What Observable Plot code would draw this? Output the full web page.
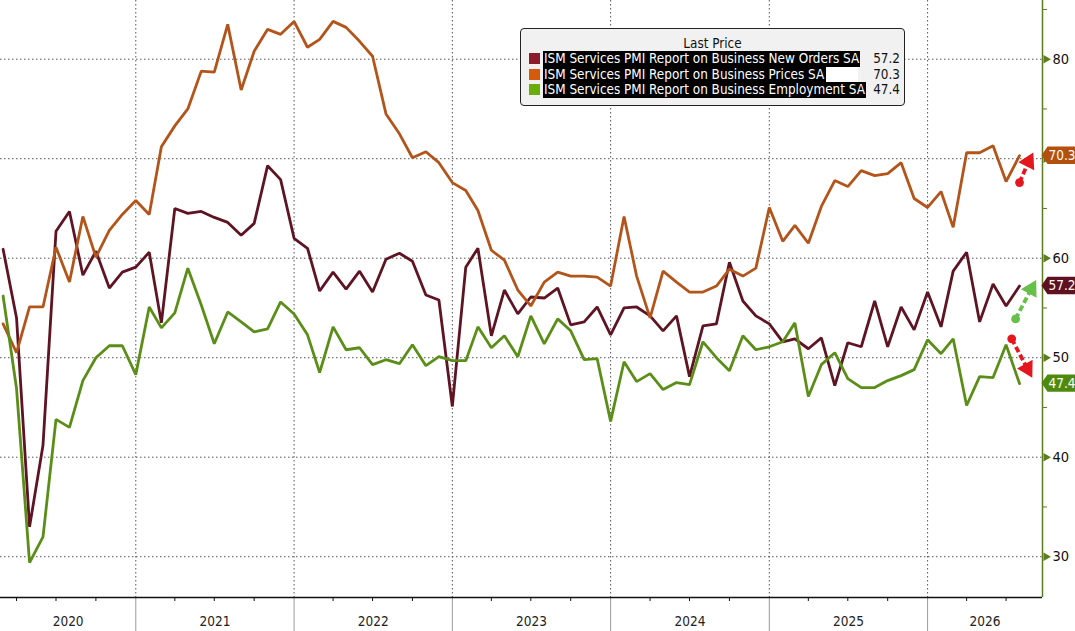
<!DOCTYPE html>
<html><head><meta charset="utf-8">
<script src="https://cdn.jsdelivr.net/npm/d3@7"></script>
<script src="https://cdn.jsdelivr.net/npm/@observablehq/plot@0.6"></script>
<style>
body{margin:0;background:#fff;}
#wrap{position:relative;width:1075px;height:631px;overflow:hidden;font-family:"DejaVu Sans Condensed","DejaVu Sans",sans-serif;}
#wrap svg{position:absolute;left:0;top:0;}
#legend{position:absolute;left:520px;top:28px;width:385px;height:78px;background:#f1f1f1;border:1px solid #222;border-radius:4px;box-sizing:border-box;font-size:13.4px;color:#111;}
#legend .ttl{position:absolute;left:0;right:0;top:6.5px;text-align:center;font-size:13.4px;}
#legend .row{position:absolute;left:0;right:0;height:15.5px;line-height:15.5px;white-space:nowrap;}
#legend .sw{position:absolute;left:7.5px;top:2px;width:11px;height:11px;}
#legend .lab{position:absolute;left:22px;top:0;height:15.5px;background:#000;color:#fff;padding:0 1px 0 1px;}
#legend .gap{display:inline-block;height:15.5px;background:#fff;vertical-align:top;}
#legend .val{position:absolute;right:4px;top:0;}
</style></head><body><div id="wrap"></div>
<script>
// ---- data ----
const seriesNames = [
  "ISM Services PMI Report on Business New Orders SA",
  "ISM Services PMI Report on Business Prices SA",
  "ISM Services PMI Report on Business Employment SA"
];
const lineColors = ["#5e1423", "#b3541a", "#5a8e18"];
const swatchColors = ["#8c1c2c", "#d65a0c", "#69ad0a"];
const tagColors = ["#5e1220", "#b3500e", "#4e8a0e"];
const lastValues = [57.2, 70.3, 47.4];

// monthly observations, Feb 2020 .. Jul 2026
const firstMonth = "2020-02-01";
const newOrders = [
  60.9, 54.0, 33.0, 41.2, 62.7, 64.7, 58.3, 60.7, 57.0, 58.6, 59.1,
  60.6, 53.5, 65.0, 64.5, 64.7, 64.1, 63.6, 62.3, 63.5, 69.3, 67.9, 62.0,
  61.0, 56.7, 58.6, 56.9, 58.7, 56.6, 59.9, 60.5, 59.7, 56.3, 55.8, 45.1,
  59.1, 61.0, 52.2, 56.8, 54.4, 56.1, 56.0, 57.0, 53.3, 53.6, 55.1, 52.3,
  55.0, 55.1, 54.2, 52.7, 54.2, 48.1, 53.2, 53.4, 59.6, 55.7, 54.2, 53.4,
  51.6, 51.9, 50.9, 52.0, 47.2, 51.5, 51.1, 55.7, 51.1, 55.1, 52.8, 56.6,
  53.1, 58.7, 60.6, 53.6, 57.4, 55.2, 57.2
];
const prices = [
  53.4, 50.5, 55.1, 55.1, 61.1, 57.6, 64.2, 60.1, 62.8, 64.4, 65.8,
  64.4, 71.2, 73.3, 75.0, 78.8, 78.7, 83.5, 76.9, 80.8, 83.0, 82.5, 83.8,
  81.2, 82.0, 83.8, 83.2, 81.8, 80.3, 74.5, 72.5, 70.1, 70.7, 69.6, 67.6,
  66.8, 64.8, 60.8, 59.8, 56.8, 55.2, 57.6, 58.6, 58.2, 58.2, 58.1, 57.2,
  64.2, 58.2, 54.0, 58.7, 57.6, 56.6, 56.6, 57.2, 58.9, 58.2, 59.0, 65.1,
  61.7, 63.3, 61.5, 65.2, 67.8, 67.2, 68.8, 68.3, 68.5, 69.6, 66.0, 65.1,
  66.7, 63.1, 70.6, 70.6, 71.3, 67.7, 70.3
];
const employment = [
  56.2, 46.9, 29.4, 32.0, 43.8, 43.0, 47.7, 50.0, 51.2, 51.2, 48.3,
  55.1, 53.0, 54.5, 59.0, 55.3, 51.4, 54.6, 53.6, 52.6, 52.9, 55.6, 54.4,
  52.3, 48.5, 53.1, 50.8, 51.0, 49.3, 49.8, 49.4, 51.3, 49.2, 50.1, 49.7,
  49.7, 53.1, 51.0, 52.2, 50.1, 54.2, 51.4, 53.9, 52.7, 49.8, 49.9, 43.6,
  49.6, 47.6, 48.4, 46.8, 47.5, 47.3, 51.6, 50.0, 48.7, 52.2, 50.8, 51.1,
  51.6, 53.5, 46.1, 49.3, 50.5, 47.9, 47.0, 47.0, 47.7, 48.2, 48.8, 51.8,
  50.4, 51.9, 45.2, 48.1, 48.0, 51.3, 47.4
];
const yearLabels = ["2020", "2021", "2022", "2023", "2024", "2025", "2026"];
const yTicks = [30, 40, 50, 60, 70, 80];
const yMinorTicks = [35, 45, 55, 65, 75, 85];
const xDomain = ["2020-02-24", "2026-09-23"];
const yDomain = [25.9, 85.9];

// trend arrows drawn near the latest values
const arrows = [
  {x1: "2026-08-01", y1: 67.6, x2: "2026-08-22", y2: 69.7, color: "#e4161e", rot: 27},
  {x1: "2026-07-23", y1: 53.9, x2: "2026-08-28", y2: 56.9, color: "#67c04a", rot: 29},
  {x1: "2026-07-14", y1: 51.9, x2: "2026-08-19", y2: 48.9, color: "#e4161e", rot: 151}
];

// ---- build table ----
const parse = s => new Date(s + "T00:00:00Z");
const seriesValues = [newOrders, prices, employment];
const start = parse(firstMonth);
const rows = [];
seriesValues.forEach((vals, si) => {
  vals.forEach((v, i) => {
    const month = d3.utcMonth.offset(start, i);
    rows.push({series: seriesNames[si], date: d3.utcMonth.offset(month, 1), value: v}); // plotted at month end
  });
});
const xs = xDomain.map(parse);
const yearStarts = yearLabels.slice(1).map(y => parse(y + "-01-01"));
const quarterTicks = [];
yearLabels.forEach(y => ["04", "07", "10"].forEach(m => {
  const d = parse(y + "-" + m + "-01");
  if (d > xs[0] && d < xs[1]) quarterTicks.push(d);
}));
const yearCenters = yearLabels.map(y => {
  const a = d3.max([parse(y + "-01-01"), xs[0]]);
  const b = d3.min([parse((+y + 1) + "-01-01"), xs[1]]);
  return new Date((+a + +b) / 2);
});
const arr = arrows.map(a => ({...a, x1: parse(a.x1), x2: parse(a.x2)}));

const axisColor = "#5b7d1f";
const gridDash = "1.5,2.5";

const plot = Plot.plot({
  width: 1075,
  height: 631,
  marginLeft: 0,
  marginRight: 33,
  marginTop: 0,
  marginBottom: 34,
  style: {fontFamily: '"DejaVu Sans Condensed","DejaVu Sans",sans-serif', fontSize: "13.5px", background: "transparent", overflow: "visible"},
  x: {type: "utc", domain: xs},
  y: {domain: yDomain},
  color: {domain: seriesNames, range: lineColors},
  marks: [
    Plot.ruleY(yTicks, {stroke: "#555", strokeDasharray: gridDash, strokeWidth: 1}),
    Plot.ruleX(yearStarts, {stroke: "#555", strokeDasharray: gridDash, strokeWidth: 1}),
    Plot.axisX({ticks: yearStarts, tickSize: 34, stroke: "#9a9a9a", tickFormat: () => "", label: null}),
    Plot.axisX({ticks: quarterTicks, tickSize: 4, stroke: "#111", tickFormat: () => "", label: null}),
    Plot.axisX({ticks: yearCenters, tickSize: 0, tickPadding: 19, tickFormat: d => String(d.getUTCFullYear()), fill: "#222", label: null}),
    Plot.ruleY([yDomain[0]], {stroke: "#111", strokeWidth: 1.4}),
    Plot.ruleX([xs[1]], {stroke: axisColor, strokeWidth: 1.5}),
    Plot.axisY({anchor: "right", ticks: yMinorTicks, tickSize: 4, stroke: axisColor, tickFormat: () => "", label: null}),
    Plot.axisY({anchor: "right", ticks: yTicks, tickSize: 0, tickPadding: 10, fill: "#111", fontSize: 14.5, label: null}),
    Plot.dot(yTicks, {x: () => xs[1], y: d => d, symbol: "triangle", rotate: 90, r: 3.2, fill: axisColor, dx: 3.5}),
    Plot.line(rows, {x: "date", y: "value", z: "series", stroke: "series", strokeWidth: 2.8, strokeLinejoin: "miter"}),
    Plot.link(arr, {x1: "x1", y1: "y1", x2: "x2", y2: "y2", stroke: "color", strokeWidth: 3.8, strokeDasharray: "6,3"}),
    Plot.dot(arr, {x: "x1", y: "y1", r: 4.4, fill: "color"}),
    Plot.dot(arr, {x: "x2", y: "y2", symbol: "triangle", rotate: "rot", r: 6.6, fill: "color"})
  ]
});

const wrap = document.getElementById("wrap");
wrap.appendChild(plot);

// value tags on the right axis (cover the tick label underneath, as in the reference)
const svg = d3.select(plot);
const yS = plot.scale("y");
const g = svg.append("g").attr("text-anchor", "start");
lastValues.forEach((v, i) => {
  const y = yS.apply(v);
  const x0 = 1041.5, h = 8.7;
  g.append("path")
    .attr("d", `M${x0},${y} L${x0 + 6},${y - h} L1075,${y - h} L1075,${y + h} L${x0 + 6},${y + h} Z`)
    .attr("fill", tagColors[i]);
  g.append("text")
    .attr("x", 1048.5).attr("y", y).attr("dy", "0.36em")
    .attr("fill", "#fff").attr("font-size", 13.5)
    .text(v.toFixed(1));
});
// hide the axis label that sits under the prices tag
svg.selectAll("[aria-label='y-axis tick label'] text").filter(function() {
  return this.textContent === "70";
}).remove();

// legend
const legend = document.createElement("div");
legend.id = "legend";
legend.innerHTML = '<div class="ttl">Last Price</div>';
const rowTops = [22, 37.5, 53];
seriesNames.forEach((name, i) => {
  const r = document.createElement("div");
  r.className = "row";
  r.style.top = rowTops[i] + "px";
  r.innerHTML = `<div class="sw" style="background:${swatchColors[i]}"></div>` +
    `<div class="lab">${name}${i === 1 ? '<span class="gap" style="width:32px;margin-left:2px;margin-right:-1px"></span>' : ''}</div>` +
    `<div class="val">${lastValues[i].toFixed(1)}</div>`;
  legend.appendChild(r);
});
wrap.appendChild(legend);
</script>
</body></html>
